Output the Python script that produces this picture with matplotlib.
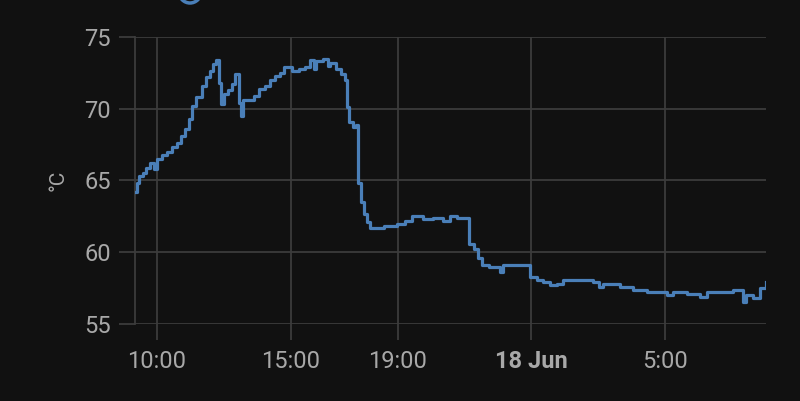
import pandas as pd
import matplotlib
matplotlib.use("Agg")
import matplotlib.pyplot as plt
from matplotlib.patches import Ellipse

# temperature readings (step history)
times = [
    "06-17 09:11", "06-17 09:15", "06-17 09:20", "06-17 09:29", "06-17 09:35",
    "06-17 09:44", "06-17 09:53", "06-17 10:00", "06-17 10:11", "06-17 10:22",
    "06-17 10:34", "06-17 10:45", "06-17 10:54", "06-17 11:03", "06-17 11:12",
    "06-17 11:19", "06-17 11:27", "06-17 11:41", "06-17 11:50", "06-17 11:59",
    "06-17 12:06", "06-17 12:12", "06-17 12:19", "06-17 12:24", "06-17 12:30",
    "06-17 12:39", "06-17 12:48", "06-17 12:55", "06-17 13:04", "06-17 13:08",
    "06-17 13:13", "06-17 13:38", "06-17 13:49", "06-17 14:02", "06-17 14:13",
    "06-17 14:25", "06-17 14:36", "06-17 14:45", "06-17 15:03", "06-17 15:19",
    "06-17 15:32", "06-17 15:43", "06-17 15:52", "06-17 15:57", "06-17 16:12",
    "06-17 16:24", "06-17 16:28", "06-17 16:42", "06-17 16:53", "06-17 17:02",
    "06-17 17:06", "06-17 17:11", "06-17 17:20", "06-17 17:26", "06-17 17:31",
    "06-17 17:38", "06-17 17:44", "06-17 17:51", "06-17 17:58", "06-17 18:29",
    "06-17 18:58", "06-17 19:16", "06-17 19:32", "06-17 19:57", "06-17 20:19",
    "06-17 20:42", "06-17 20:57", "06-17 21:13", "06-17 21:40", "06-17 21:51",
    "06-17 22:00", "06-17 22:09", "06-17 22:25", "06-17 22:49", "06-17 22:56",
    "06-17 23:50", "06-17 23:57", "06-18 00:12", "06-18 00:26", "06-18 00:42",
    "06-18 00:57", "06-18 01:11", "06-18 02:18", "06-18 02:31", "06-18 02:40",
    "06-18 03:19", "06-18 03:48", "06-18 04:19", "06-18 05:04", "06-18 05:17",
    "06-18 05:49", "06-18 06:18", "06-18 06:34", "06-18 07:32", "06-18 07:54",
    "06-18 08:01", "06-18 08:17", "06-18 08:33", "06-18 08:46",
]
temps = [
    64.2, 64.8, 65.3, 65.5, 65.9,
    66.2, 65.8, 66.5, 66.8, 67.0,
    67.3, 67.6, 68.1, 68.6, 69.3,
    70.2, 70.8, 71.6, 72.2, 72.6,
    73.1, 73.4, 71.8, 70.3, 71.0,
    71.3, 71.7, 72.4, 70.4, 69.5,
    70.6, 70.9, 71.4, 71.6, 72.0,
    72.3, 72.5, 72.9, 72.6, 72.8,
    72.9, 73.4, 72.8, 73.3, 73.5,
    73.0, 73.2, 72.8, 72.4, 72.0,
    70.1, 69.1, 68.7, 68.9, 64.8,
    63.5, 62.7, 62.1, 61.7, 61.8,
    62.0, 62.2, 62.5, 62.3, 62.4,
    62.2, 62.5, 62.4, 60.6, 60.2,
    59.6, 59.1, 59.0, 58.6, 59.1,
    59.1, 58.3, 58.1, 57.9, 57.7,
    57.8, 58.1, 57.9, 57.6, 57.8,
    57.6, 57.4, 57.2, 57.0, 57.2,
    57.1, 56.9, 57.2, 57.4, 56.5,
    57.0, 56.8, 57.5, 57.9,
]

tick_times = ["06-17 10:00", "06-17 15:00", "06-17 19:00", "06-18 00:00", "06-18 05:00"]
tick_labels = ["10:00", "15:00", "19:00", "18 Jun", "5:00"]
y_ticks = [55, 60, 65, 70, 75]

bg = "#111111"
grid_col = "#3c3c3c"
text_col = "#a8a8a8"
line_col = "#4a7fb8"

x = pd.to_datetime(["2023-" + t for t in times])
xt = pd.to_datetime(["2023-" + t for t in tick_times])

plt.rcParams["font.family"] = ["Roboto", "DejaVu Sans"]

fig = plt.figure(figsize=(8, 4.01), dpi=100, facecolor=bg)
ax = fig.add_axes([135 / 800, 1 - 324 / 401, (766 - 135) / 800, (324 - 37) / 401])
ax.set_facecolor(bg)

ax.step(x, temps, where="post", color=line_col, lw=2.3, zorder=3)

ax.set_xlim(x[0], x[-1])
ax.set_ylim(55, 75)
ax.set_yticks(y_ticks)
ax.set_xticks(xt)
ax.set_xticklabels(tick_labels)
ax.get_xticklabels()[3].set_fontweight("bold")

ax.grid(True, color=grid_col, lw=1.3)
for s in ["top", "right", "bottom"]:
    ax.spines[s].set_visible(False)
ax.spines["left"].set_color(grid_col)
ax.spines["left"].set_linewidth(1.3)
ax.tick_params(axis="both", colors=grid_col, labelcolor=text_col, labelsize=17,
               length=11.5, width=1.3)
ax.tick_params(axis="y", pad=6)
ax.tick_params(axis="x", pad=7)

ax.set_ylabel("°C", color=text_col, fontsize=15, labelpad=12)

# legend marker, mostly cut off at the top edge
fig.patches.append(Ellipse((190 / 800, 1 + 8 / 401), 22 / 800, 22 / 401,
                           transform=fig.transFigure, facecolor="none",
                           edgecolor=line_col, lw=2.5))

fig.savefig("out.png", dpi=100, facecolor=bg)
